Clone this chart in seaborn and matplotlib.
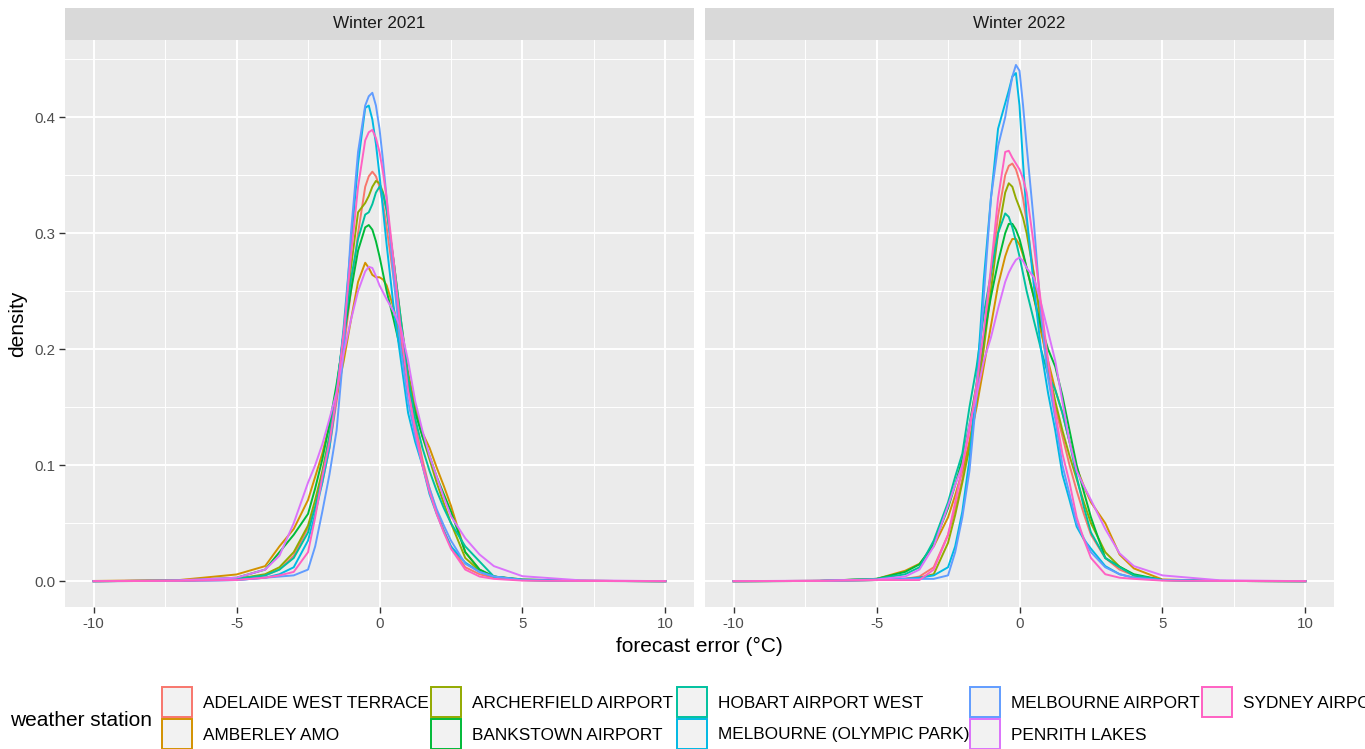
import numpy as np
import pandas as pd
import matplotlib
matplotlib.use("Agg")
import matplotlib.pyplot as plt
from matplotlib.patches import Rectangle
from matplotlib.ticker import FixedLocator
import seaborn as sns

# ---------------- data ----------------
error_grid = [-10, -7, -5, -4, -3.5, -3, -2.5, -2.25, -2, -1.75, -1.5, -1.25, -1, -0.75, -0.5, -0.375,
              -0.25, -0.125, 0, 0.125, 0.25, 0.5, 0.75, 1, 1.25, 1.5, 1.75, 2, 2.25, 2.5, 3, 3.5, 4, 5, 7, 10]

stations = ["ADELAIDE WEST TERRACE", "AMBERLEY AMO", "ARCHERFIELD AIRPORT", "BANKSTOWN AIRPORT",
            "HOBART AIRPORT WEST", "MELBOURNE (OLYMPIC PARK)", "MELBOURNE AIRPORT",
            "PENRITH LAKES", "SYDNEY AIRPORT"]
panels = ["Winter 2021", "Winter 2022"]

# Winter 2021 densities
adelaide_2021 = [0, 0.0005, 0.002, 0.005, 0.01, 0.022, 0.046, 0.064, 0.085, 0.115, 0.155, 0.2, 0.25, 0.30, 0.34, 0.349,
                 0.353, 0.349, 0.34, 0.325, 0.305, 0.26, 0.215, 0.17, 0.135, 0.105, 0.08, 0.06, 0.044, 0.03, 0.012, 0.006, 0.003, 0.001, 0.0003, 0]
amberley_2021 = [0.0002, 0.001, 0.0058, 0.013, 0.03, 0.045, 0.07, 0.09, 0.11, 0.135, 0.16, 0.19, 0.225, 0.258, 0.2745, 0.27,
                 0.264, 0.262, 0.262, 0.26, 0.255, 0.235, 0.205, 0.175, 0.15, 0.128, 0.115, 0.098, 0.082, 0.065, 0.025, 0.01, 0.004, 0.0015, 0.0003, 0]
archerfield_2021 = [0, 0.0005, 0.002, 0.006, 0.012, 0.025, 0.048, 0.07, 0.095, 0.125, 0.165, 0.215, 0.27, 0.318, 0.326, 0.332,
                    0.34, 0.345, 0.343, 0.335, 0.32, 0.275, 0.225, 0.18, 0.15, 0.125, 0.105, 0.085, 0.067, 0.05, 0.02, 0.009, 0.004, 0.001, 0.0003, 0]
bankstown_2021 = [0, 0.0005, 0.003, 0.01, 0.025, 0.04, 0.058, 0.08, 0.105, 0.135, 0.17, 0.21, 0.25, 0.285, 0.305, 0.307,
                  0.303, 0.293, 0.28, 0.265, 0.25, 0.225, 0.198, 0.17, 0.145, 0.125, 0.108, 0.09, 0.075, 0.06, 0.025, 0.01, 0.004, 0.001, 0.0003, 0]
hobart_2021 = [0, 0.0005, 0.002, 0.005, 0.01, 0.02, 0.042, 0.064, 0.09, 0.125, 0.165, 0.215, 0.26, 0.295, 0.316, 0.318,
               0.325, 0.335, 0.34, 0.334, 0.32, 0.275, 0.225, 0.175, 0.14, 0.115, 0.095, 0.078, 0.063, 0.05, 0.03, 0.017, 0.004, 0.0015, 0.0003, 0]
olympic_2021 = [0, 0.0003, 0.001, 0.003, 0.006, 0.012, 0.035, 0.058, 0.085, 0.115, 0.16, 0.22, 0.29, 0.36, 0.408, 0.41,
                0.398, 0.377, 0.35, 0.32, 0.29, 0.235, 0.19, 0.145, 0.12, 0.1, 0.075, 0.058, 0.043, 0.03, 0.016, 0.008, 0.004, 0.001, 0.0002, 0]
melb_airport_2021 = [0, 0.0003, 0.001, 0.003, 0.004, 0.005, 0.01, 0.03, 0.06, 0.092, 0.13, 0.2, 0.3, 0.37, 0.41, 0.418,
                     0.421, 0.41, 0.39, 0.362, 0.33, 0.26, 0.2, 0.155, 0.125, 0.1, 0.08, 0.062, 0.048, 0.035, 0.015, 0.008, 0.004, 0.001, 0.0002, 0]
penrith_2021 = [0, 0.0008, 0.003, 0.01, 0.022, 0.05, 0.085, 0.1, 0.118, 0.14, 0.163, 0.197, 0.225, 0.25, 0.267, 0.271,
                0.27, 0.263, 0.255, 0.249, 0.243, 0.232, 0.218, 0.19, 0.155, 0.13, 0.108, 0.09, 0.072, 0.056, 0.037, 0.023, 0.013, 0.0043, 0.0008, 0]
sydney_2021 = [0, 0.0003, 0.001, 0.003, 0.005, 0.008, 0.025, 0.055, 0.09, 0.12, 0.16, 0.215, 0.28, 0.34, 0.38, 0.387,
               0.389, 0.382, 0.37, 0.352, 0.33, 0.275, 0.215, 0.165, 0.13, 0.1, 0.077, 0.058, 0.042, 0.028, 0.01, 0.004, 0.002, 0.0005, 0.0002, 0]

# Winter 2022 densities
adelaide_2022 = [0, 0.0003, 0.001, 0.002, 0.004, 0.012, 0.04, 0.062, 0.088, 0.12, 0.16, 0.21, 0.265, 0.315, 0.35, 0.358,
                 0.36, 0.355, 0.345, 0.33, 0.31, 0.265, 0.22, 0.18, 0.15, 0.125, 0.1, 0.078, 0.058, 0.04, 0.02, 0.01, 0.005, 0.001, 0.0002, 0]
amberley_2022 = [0, 0.0003, 0.002, 0.009, 0.015, 0.03, 0.055, 0.074, 0.095, 0.12, 0.15, 0.185, 0.22, 0.255, 0.28, 0.289,
                 0.295, 0.295, 0.29, 0.281, 0.27, 0.245, 0.215, 0.19, 0.165, 0.145, 0.12, 0.098, 0.082, 0.068, 0.05, 0.023, 0.011, 0.0015, 0.0002, 0]
archerfield_2022 = [0, 0.0002, 0.001, 0.002, 0.003, 0.006, 0.033, 0.057, 0.085, 0.115, 0.155, 0.2, 0.25, 0.3, 0.335, 0.343,
                    0.34, 0.33, 0.322, 0.313, 0.3, 0.265, 0.225, 0.185, 0.155, 0.13, 0.108, 0.088, 0.068, 0.05, 0.025, 0.0125, 0.005, 0.001, 0.0002, 0]
bankstown_2022 = [0, 0.0002, 0.002, 0.008, 0.0145, 0.032, 0.063, 0.083, 0.105, 0.135, 0.17, 0.21, 0.245, 0.275, 0.3, 0.308,
                  0.308, 0.303, 0.295, 0.283, 0.27, 0.245, 0.22, 0.2, 0.185, 0.16, 0.13, 0.1, 0.077, 0.055, 0.02, 0.0125, 0.006, 0.001, 0.0002, 0]
hobart_2022 = [0, 0.0003, 0.002, 0.006, 0.012, 0.035, 0.068, 0.09, 0.11, 0.15, 0.185, 0.23, 0.265, 0.3, 0.317, 0.314,
               0.305, 0.293, 0.28, 0.265, 0.25, 0.225, 0.2, 0.178, 0.165, 0.145, 0.12, 0.09, 0.064, 0.042, 0.02, 0.012, 0.005, 0.001, 0.0002, 0]
olympic_2022 = [0, 0.0002, 0.001, 0.002, 0.003, 0.005, 0.012, 0.03, 0.06, 0.105, 0.17, 0.26, 0.33, 0.39, 0.412, 0.423,
                0.435, 0.438, 0.41, 0.36, 0.315, 0.255, 0.2, 0.162, 0.13, 0.092, 0.07, 0.047, 0.036, 0.028, 0.013, 0.006, 0.003, 0.001, 0.0002, 0]
melb_airport_2022 = [0, 0.0002, 0.001, 0.002, 0.002, 0.002, 0.005, 0.025, 0.055, 0.095, 0.16, 0.245, 0.33, 0.375, 0.4, 0.418,
                     0.435, 0.445, 0.44, 0.41, 0.375, 0.31, 0.23, 0.175, 0.14, 0.1, 0.075, 0.05, 0.037, 0.025, 0.012, 0.006, 0.003, 0.001, 0.0002, 0]
penrith_2022 = [0, 0.0005, 0.0015, 0.004, 0.01, 0.03, 0.065, 0.083, 0.1, 0.135, 0.16, 0.19, 0.21, 0.235, 0.258, 0.266,
                0.272, 0.277, 0.279, 0.276, 0.27, 0.262, 0.24, 0.215, 0.19, 0.155, 0.12, 0.095, 0.082, 0.07, 0.045, 0.024, 0.013, 0.005, 0.0008, 0]
sydney_2022 = [0, 0.0002, 0.001, 0.001, 0.001, 0.01, 0.04, 0.068, 0.098, 0.13, 0.17, 0.215, 0.27, 0.33, 0.37, 0.371,
               0.365, 0.36, 0.355, 0.347, 0.335, 0.29, 0.24, 0.19, 0.145, 0.11, 0.085, 0.055, 0.036, 0.02, 0.006, 0.003, 0.002, 0.0005, 0.0002, 0]

x_ticks = [-10, -5, 0, 5, 10]
y_ticks = [0.0, 0.1, 0.2, 0.3, 0.4]

series = {
    "Winter 2021": [adelaide_2021, amberley_2021, archerfield_2021, bankstown_2021, hobart_2021,
                    olympic_2021, melb_airport_2021, penrith_2021, sydney_2021],
    "Winter 2022": [adelaide_2022, amberley_2022, archerfield_2022, bankstown_2022, hobart_2022,
                    olympic_2022, melb_airport_2022, penrith_2022, sydney_2022],
}

rows = []
for panel in panels:
    for st, vals in zip(stations, series[panel]):
        for xv, dv in zip(error_grid, vals):
            rows.append((panel, st, xv, dv))
df = pd.DataFrame(rows, columns=["panel", "station", "error", "density"])

# ---------------- styling ----------------
colors = ["#F8766D", "#D39200", "#93AA00", "#00BA38", "#00C19F",
          "#00B9E3", "#619CFF", "#DB72FB", "#FF61C3"]
palette = dict(zip(stations, colors))

plt.rcParams['font.family'] = ['Liberation Sans', 'DejaVu Sans']

W, H = 1365, 749
fig = plt.figure(figsize=(W / 100, H / 100), dpi=100)

def fx(px):
    return px / W

def fy(py):
    return 1 - py / H

panel_boxes = [(65, 694), (705, 1334)]
top, bottom, strip_top = 40, 607, 8

for (x0, x1), panel in zip(panel_boxes, panels):
    ax = fig.add_axes([fx(x0), fy(bottom), (x1 - x0) / W, (bottom - top) / H])
    ax.set_facecolor("#EBEBEB")
    sub = df[df.panel == panel]
    sns.lineplot(data=sub, x="error", y="density", hue="station", hue_order=stations,
                 palette=palette, estimator=None, sort=False, linewidth=1.4,
                 legend=False, ax=ax)
    for ln in ax.lines:
        ln.set_solid_joinstyle("round")
    ax.set_xlim(-11, 11)
    ax.set_ylim(-0.02225, 0.4665)
    ax.xaxis.set_major_locator(FixedLocator(x_ticks))
    ax.xaxis.set_minor_locator(FixedLocator([-7.5, -2.5, 2.5, 7.5]))
    ax.yaxis.set_major_locator(FixedLocator(y_ticks))
    ax.yaxis.set_minor_locator(FixedLocator([0.05, 0.15, 0.25, 0.35, 0.45]))
    ax.grid(which="major", color="white", linewidth=1.4)
    ax.grid(which="minor", color="white", linewidth=0.7)
    ax.set_axisbelow(True)
    for s in ax.spines.values():
        s.set_visible(False)
    ax.tick_params(which="minor", length=0)
    ax.tick_params(which="major", length=4, width=1, color="#333333",
                   labelcolor="#4D4D4D", labelsize=10.8, pad=3)
    ax.set_xticklabels([str(t) for t in x_ticks])
    if x0 == 65:
        ax.set_yticklabels([f"{t:.1f}" for t in y_ticks])
    else:
        ax.tick_params(axis="y", left=False, labelleft=False)
    ax.set_xlabel("")
    ax.set_ylabel("")
    # strip
    fig.add_artist(Rectangle((fx(x0), fy(top)), (x1 - x0) / W, (top - strip_top) / H,
                             transform=fig.transFigure, facecolor="#D9D9D9", edgecolor="none"))
    fig.text(fx((x0 + x1) / 2), fy((top + strip_top) / 2), panel, ha="center", va="center",
             fontsize=12.3, color="#1A1A1A")

fig.text(fx(699.5), fy(646), "forecast error (°C)", ha="center", va="center", fontsize=15, color="black")
fig.text(fx(18), fy(323.5), "density", ha="center", va="center", rotation=90, fontsize=15, color="black")

# legend (bottom, 2 rows, filled by column)
fig.text(fx(10), fy(720), "weather station", ha="left", va="center", fontsize=15, color="black")
key_x = [162, 431, 677, 970, 1202]
key_y = [687, 719]
for i, (st, col) in enumerate(zip(stations, colors)):
    c, r = i // 2, i % 2
    kx, ky = key_x[c], key_y[r]
    fig.add_artist(Rectangle((fx(kx), fy(ky + 30)), 30 / W, 30 / H, transform=fig.transFigure,
                             facecolor="#F2F2F2", edgecolor=col, linewidth=1.4, clip_on=False))
    fig.text(fx(kx + 41), fy(ky + 16), st, ha="left", va="center", fontsize=12.4, color="black")

fig.savefig("out.png", dpi=100)
